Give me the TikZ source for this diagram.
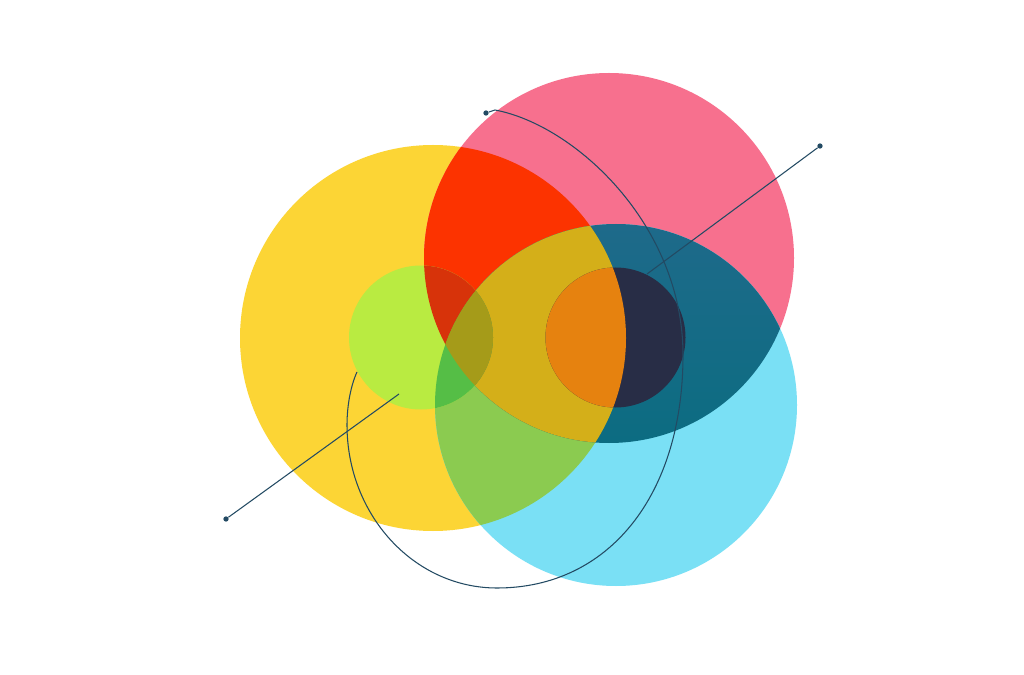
\documentclass[tikz,border=0pt]{standalone}
\usepackage{xcolor}
\usepackage{tikz}
\usetikzlibrary{calc}
\definecolor{sunYellow}{HTML}{FCD535}
\definecolor{rosePink}{HTML}{F7708E}
\definecolor{skyCyan}{HTML}{7AE0F5}
\definecolor{flameRed}{HTML}{FC3300}
\definecolor{leafGreen}{HTML}{8BCB50}
\definecolor{tealTop}{HTML}{1E6A8A}
\definecolor{tealBottom}{HTML}{006E7C}
\definecolor{mustardGold}{HTML}{D4AF19}
\definecolor{limeGreen}{HTML}{B9EB41}
\definecolor{brickRed}{HTML}{D7330A}
\definecolor{grassGreen}{HTML}{55BE46}
\definecolor{oliveGold}{HTML}{A59B19}
\definecolor{amberOrange}{HTML}{E6820F}
\definecolor{nightNavy}{HTML}{282D46}
\definecolor{inkBlue}{HTML}{234A63}
\newcommand{\sunDisc}{(433,338) circle (193)}
\newcommand{\roseDisc}{(609,258) circle (185)}
\newcommand{\skyDisc}{(616,405) circle (181)}
\newcommand{\limeDisc}{(421,337.5) circle (72)}
\newcommand{\amberDisc}{(615.5,337.5) circle (70)}
\tikzset{
    wire/.style={draw=inkBlue, line width=0.6pt},
    pin/.style={circle, fill=inkBlue, inner sep=0pt, minimum size=3pt}
}
\begin{document}
\begin{tikzpicture}[x=0.02cm, y=-0.02cm]
        \fill[white] (0,0) rectangle (1024,675);

        % Big discs
        \fill[sunYellow] \sunDisc;
        \fill[rosePink] \roseDisc;
        \fill[skyCyan] \skyDisc;

        % Overlaps
        \begin{scope}
            \clip \sunDisc;
            \fill[flameRed] \roseDisc;
            \fill[leafGreen] \skyDisc;
        \end{scope}
        \begin{scope}
            \clip \roseDisc;
            \shade[top color=tealTop, bottom color=tealBottom] \skyDisc;
        \end{scope}
        \begin{scope}
            \clip \sunDisc;
            \clip \roseDisc;
            \fill[mustardGold] \skyDisc;
        \end{scope}

        % Small left disc
        \fill[limeGreen] \limeDisc;
        \begin{scope}
            \clip \limeDisc;
            \fill[brickRed] \roseDisc;
            \fill[grassGreen] \skyDisc;
            \clip \roseDisc;
            \fill[oliveGold] \skyDisc;
        \end{scope}

        % Small right disc
        \fill[nightNavy] \amberDisc;
        \begin{scope}
            \clip \amberDisc;
            \fill[amberOrange] \sunDisc;
        \end{scope}

        % Pins and wires
        \node[pin] (tipSW) at (226,519) {};
        \coordinate (endSW) at (399,394);
        \node[pin] (tipNE) at (820,146) {};
        \coordinate (endNE) at (647,274);
        \node[pin] (tipN) at (486,113) {};
        \coordinate (loopTop) at (495,110);
        \coordinate (loopEast) at (683,355);
        \coordinate (loopSouth) at (497,588);
        \coordinate (loopWest) at (347,425);
        \coordinate (endLoop) at (357,372);

        \draw[wire] (tipSW) -- (endSW);
        \draw[wire] (tipNE) -- (endNE);
        \draw[wire] (tipN) -- (loopTop)
            .. controls (575,125) and (683,225) .. (loopEast)
            .. controls (683,495) and (609,588) .. (loopSouth)
            .. controls (414,588) and (347,515) .. (loopWest)
            .. controls (347,405) and (351,385) .. (endLoop);
    \end{tikzpicture}
\end{document}
